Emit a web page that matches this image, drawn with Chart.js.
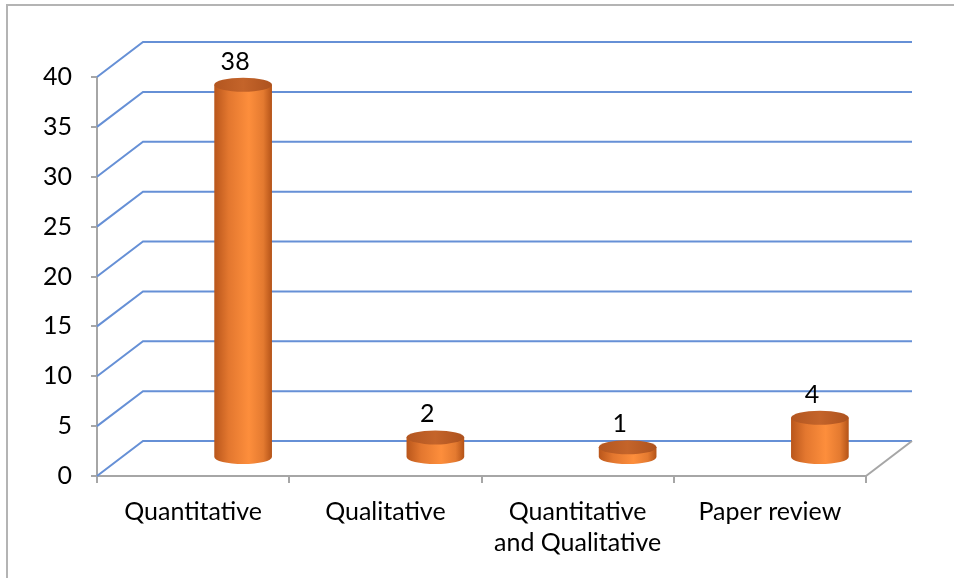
<!DOCTYPE html>
<html>
<head>
<meta charset="utf-8">
<script src="https://cdn.jsdelivr.net/npm/chart.js@4/dist/chart.umd.min.js"></script>
<style>
  html, body { margin: 0; padding: 0; background: #fff; }
  #wrap { width: 954px; height: 578px; position: relative; }
</style>
</head>
<body>
<div id="wrap"><canvas id="studyChart" width="954" height="578"></canvas></div>
<script>
var categories = ["Quantitative", "Qualitative", ["Quantitative", "and Qualitative"], "Paper review"];
var studyCounts = [38, 2, 1, 4];
var yTicks = [0, 5, 10, 15, 20, 25, 30, 35, 40];

var fontFamily = "Lato, 'Open Sans', sans-serif";
var gridBlue = "#6690d6";
var axisGray = "#a6a6a6";

// depth of the 3d box (back wall offset from the front axes)
var depthX = 46;
var depthY = 35;

// frame around the whole chart
var framePlugin = {
  id: "frame",
  beforeDraw: function (chart) {
    var ctx = chart.ctx;
    ctx.save();
    ctx.strokeStyle = "#b4b4b4";
    ctx.lineWidth = 2;
    ctx.beginPath();
    ctx.moveTo(7, 578);
    ctx.lineTo(7, 5);
    ctx.lineTo(954, 5);
    ctx.stroke();
    ctx.restore();
  }
};

// back wall gridlines and floor edge
var wallPlugin = {
  id: "wall",
  beforeDatasetsDraw: function (chart) {
    var ctx = chart.ctx;
    var area = chart.chartArea;
    var yScale = chart.scales.y;
    ctx.save();
    ctx.lineWidth = 2;
    ctx.strokeStyle = gridBlue;
    yTicks.forEach(function (v) {
      var y = yScale.getPixelForValue(v);
      ctx.beginPath();
      ctx.moveTo(area.left, y);
      ctx.lineTo(area.left + depthX, y - depthY);
      ctx.lineTo(area.right + depthX, y - depthY);
      ctx.stroke();
    });
    ctx.strokeStyle = axisGray;
    ctx.beginPath();
    ctx.moveTo(area.right, area.bottom);
    ctx.lineTo(area.right + depthX, area.bottom - depthY);
    ctx.stroke();
    ctx.restore();
  }
};

// cylinders drawn from the (hidden) bar elements
var cylinderPlugin = {
  id: "cylinders",
  afterDatasetsDraw: function (chart) {
    var ctx = chart.ctx;
    var yScale = chart.scales.y;
    var meta = chart.getDatasetMeta(0);
    var zeroY = yScale.getPixelForValue(0);
    var baseY = zeroY - 19;
    var shrink = 0.982;
    var ry = 7;

    meta.data.forEach(function (bar, i) {
      var cx = bar.x + 50;
      var rx = bar.width / 2;
      var topY = baseY - (zeroY - bar.y) * shrink;

      ctx.save();
      var body = ctx.createLinearGradient(cx - rx, 0, cx + rx, 0);
      body.addColorStop(0, "#b9561b");
      body.addColorStop(0.25, "#e3772f");
      body.addColorStop(0.6, "#fd8e3c");
      body.addColorStop(0.85, "#e47a30");
      body.addColorStop(1, "#b45318");
      ctx.fillStyle = body;
      ctx.beginPath();
      ctx.moveTo(cx - rx, topY);
      ctx.lineTo(cx - rx, baseY);
      ctx.ellipse(cx, baseY, rx, ry, 0, Math.PI, 0, true);
      ctx.lineTo(cx + rx, topY);
      ctx.closePath();
      ctx.fill();

      var lid = ctx.createLinearGradient(cx - rx, 0, cx + rx, 0);
      lid.addColorStop(0, "#b35620");
      lid.addColorStop(0.5, "#c4642a");
      lid.addColorStop(1, "#ad521e");
      ctx.fillStyle = lid;
      ctx.beginPath();
      ctx.ellipse(cx, topY, rx, ry, 0, 0, Math.PI * 2);
      ctx.fill();

      ctx.fillStyle = "#000";
      ctx.font = "25px " + fontFamily;
      ctx.textAlign = "center";
      ctx.textBaseline = "middle";
      ctx.fillText(String(studyCounts[i]), cx - 8, topY - 23);
      ctx.restore();
    });
  }
};

new Chart(document.getElementById("studyChart"), {
  type: "bar",
  data: {
    labels: categories,
    datasets: [{
      data: studyCounts,
      backgroundColor: "rgba(0,0,0,0)",
      categoryPercentage: 1,
      barPercentage: 0.3
    }]
  },
  options: {
    responsive: false,
    animation: false,
    layout: { padding: { left: 7, top: 77, right: 88, bottom: 0 } },
    plugins: { legend: { display: false }, tooltip: { enabled: false } },
    scales: {
      x: {
        afterFit: function (scale) { scale.height = 102; },
        border: { display: true, color: axisGray, width: 2 },
        grid: { drawOnChartArea: false, drawTicks: true, tickLength: 7, color: axisGray, lineWidth: 2 },
        ticks: { color: "#000", padding: 13, maxRotation: 0, font: { family: fontFamily, size: 25, lineHeight: 1.25 } }
      },
      y: {
        min: 0,
        max: 40,
        afterFit: function (scale) { scale.width = 90; },
        afterBuildTicks: function (scale) {
          scale.ticks = yTicks.map(function (v) { return { value: v }; });
        },
        border: { display: true, color: axisGray, width: 2 },
        grid: { drawOnChartArea: false, drawTicks: true, tickLength: 6, color: axisGray, lineWidth: 2 },
        ticks: { color: "#000", padding: 19, font: { family: fontFamily, size: 25 } }
      }
    }
  },
  plugins: [framePlugin, wallPlugin, cylinderPlugin]
});
</script>
</body>
</html>
